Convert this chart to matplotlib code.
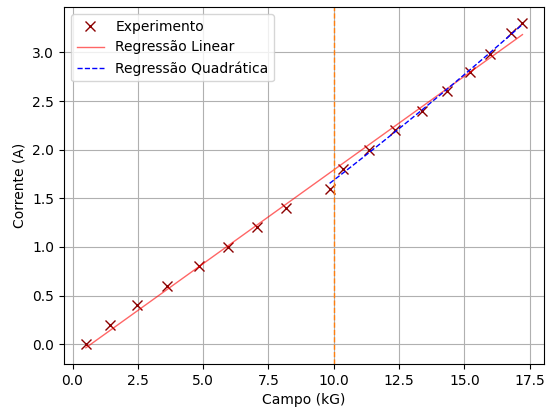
import matplotlib
matplotlib.use("Agg")
import matplotlib.pyplot as plt
import numpy as np

# Campo (kG) e corrente (A) medidos
campo = [0.51, 1.43, 2.46, 3.61, 4.85, 5.95, 7.06, 8.17, 9.84,
         10.35, 11.36, 12.35, 13.36, 14.32, 15.2, 15.96, 16.79, 17.22]
corrente = [0.00, 0.20, 0.40, 0.60, 0.80, 1.00, 1.20, 1.40, 1.60,
            1.80, 2.00, 2.20, 2.40, 2.60, 2.80, 2.98, 3.20, 3.30]
limite = 10.0


def main():
    x = np.array(campo)
    y = np.array(corrente)

    # ajuste linear em todos os pontos
    a, b = np.polyfit(x, y, 1)
    x_lin = np.linspace(x.min(), x.max(), 100)

    # ajuste quadratico na regiao de campo alto
    mask = x >= limite - 0.2
    coef = np.polyfit(x[mask], y[mask], 2)
    x_quad = np.linspace(x[mask].min(), x[mask].max(), 100)

    fig = plt.figure(figsize=(5.49, 4.12), dpi=100)
    ax = fig.add_axes([0.1166, 0.1165, 0.8748, 0.8665])
    ax.plot(x, y, "x", color="darkred", markersize=7, label="Experimento")
    ax.plot(x_lin, a * x_lin + b, color="red", linewidth=1, alpha=0.6,
            label="Regressão Linear")
    ax.plot(x_quad, np.polyval(coef, x_quad), "b--", linewidth=1,
            label="Regressão Quadrática")
    ax.axvline(limite, color="C1", linestyle="--", linewidth=1)
    ax.set_xlabel("Campo (kG)")
    ax.set_ylabel("Corrente (A)")
    ax.grid(True)
    ax.legend(loc="upper left")
    fig.savefig("out.png", dpi=100)


if __name__ == "__main__":
    main()
